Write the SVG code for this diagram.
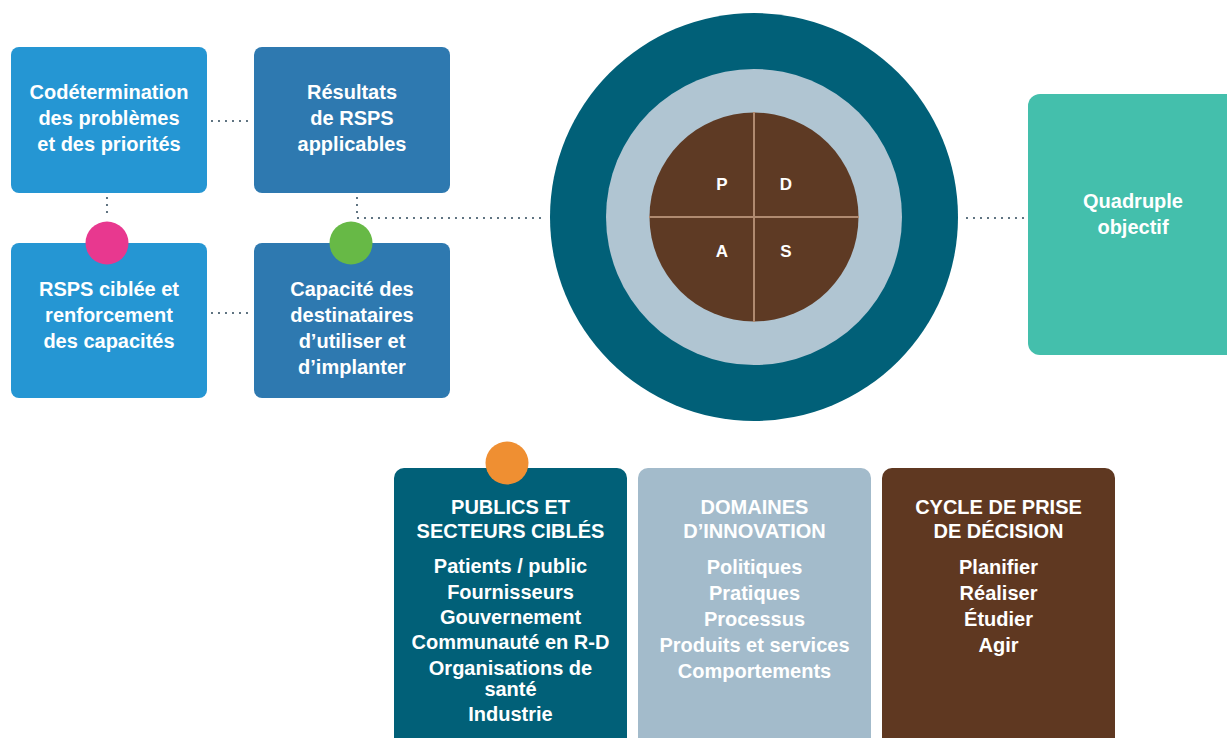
<svg xmlns="http://www.w3.org/2000/svg" width="1227" height="738" viewBox="0 0 1227 738">
<style>
text{font-family:"Liberation Sans",Arial,sans-serif;font-weight:bold;font-size:20px;fill:#fff;text-anchor:middle}
.pdsa{font-size:17px}
.dot{fill:none;stroke:#3d5566;stroke-width:2.2;stroke-linecap:round;stroke-dasharray:0 7}
</style>
<rect width="1227" height="738" fill="#fff"/>
<g id="connectors">
<line class="dot" x1="212" y1="121" x2="252" y2="121"/>
<line class="dot" x1="212" y1="313" x2="252" y2="313"/>
<line class="dot" x1="107" y1="198" x2="107" y2="218"/>
<polyline class="dot" points="357,198 357,218 546,218"/>
<line class="dot" x1="967" y1="218" x2="1024" y2="218"/>
</g>
<g id="n1">
<rect x="11" y="47" width="196" height="146" rx="8" fill="#2596d3"/>
<text x="109" y="99">Codétermination</text>
<text x="109" y="125">des problèmes</text>
<text x="109" y="151">et des priorités</text>
</g>
<g id="n2">
<rect x="254" y="47" width="196" height="146" rx="8" fill="#2e79b0"/>
<text x="352" y="99">Résultats</text>
<text x="352" y="125">de RSPS</text>
<text x="352" y="151">applicables</text>
</g>
<g id="n3">
<rect x="11" y="243" width="196" height="155" rx="8" fill="#2596d3"/>
<text x="109" y="296">RSPS ciblée et</text>
<text x="109" y="322">renforcement</text>
<text x="109" y="348">des capacités</text>
<circle cx="107" cy="243" r="21.5" fill="#e8388f"/>
</g>
<g id="n4">
<rect x="254" y="243" width="196" height="155" rx="8" fill="#2e79b0"/>
<text x="352" y="296">Capacité des</text>
<text x="352" y="322">destinataires</text>
<text x="352" y="348">d’utiliser et</text>
<text x="352" y="374">d’implanter</text>
<circle cx="351" cy="243" r="21.5" fill="#67b946"/>
</g>
<g id="cycle">
<circle cx="754" cy="217" r="204" fill="#016078"/>
<circle cx="754" cy="217" r="148" fill="#b0c5d2"/>
<circle cx="754" cy="217" r="104.5" fill="#5e3a24"/>
<line x1="754" y1="112" x2="754" y2="322" stroke="#b08a70" stroke-width="2"/>
<line x1="649" y1="217" x2="859" y2="217" stroke="#b08a70" stroke-width="2"/>
<text class="pdsa" x="722" y="190">P</text>
<text class="pdsa" x="786" y="190">D</text>
<text class="pdsa" x="722" y="257">A</text>
<text class="pdsa" x="786" y="257">S</text>
</g>
<g id="quadruple">
<rect x="1028" y="94" width="214" height="261" rx="12" fill="#44bfac"/>
<text x="1133" y="208">Quadruple</text>
<text x="1133" y="234">objectif</text>
</g>
<g id="publics">
<rect x="394" y="468" width="233" height="290" rx="10" fill="#016078"/>
<circle cx="507" cy="463" r="21.5" fill="#ef8f32"/>
<text x="510.5" y="514">PUBLICS ET</text>
<text x="510.5" y="538">SECTEURS CIBLÉS</text>
<text x="510.5" y="573">Patients / public</text>
<text x="510.5" y="599">Fournisseurs</text>
<text x="510.5" y="624">Gouvernement</text>
<text x="510.5" y="649">Communauté en R-D</text>
<text x="510.5" y="675">Organisations de</text>
<text x="510.5" y="696">santé</text>
<text x="510.5" y="721">Industrie</text>
</g>
<g id="domaines">
<rect x="638" y="468" width="233" height="290" rx="10" fill="#a3bbcb"/>
<text x="754.5" y="514">DOMAINES</text>
<text x="754.5" y="538">D’INNOVATION</text>
<text x="754.5" y="574">Politiques</text>
<text x="754.5" y="600">Pratiques</text>
<text x="754.5" y="626">Processus</text>
<text x="754.5" y="652">Produits et services</text>
<text x="754.5" y="678">Comportements</text>
</g>
<g id="decision">
<rect x="882" y="468" width="233" height="290" rx="10" fill="#5f3821"/>
<text x="998.5" y="514">CYCLE DE PRISE</text>
<text x="998.5" y="538">DE DÉCISION</text>
<text x="998.5" y="574">Planifier</text>
<text x="998.5" y="600">Réaliser</text>
<text x="998.5" y="626">Étudier</text>
<text x="998.5" y="652">Agir</text>
</g>
</svg>
